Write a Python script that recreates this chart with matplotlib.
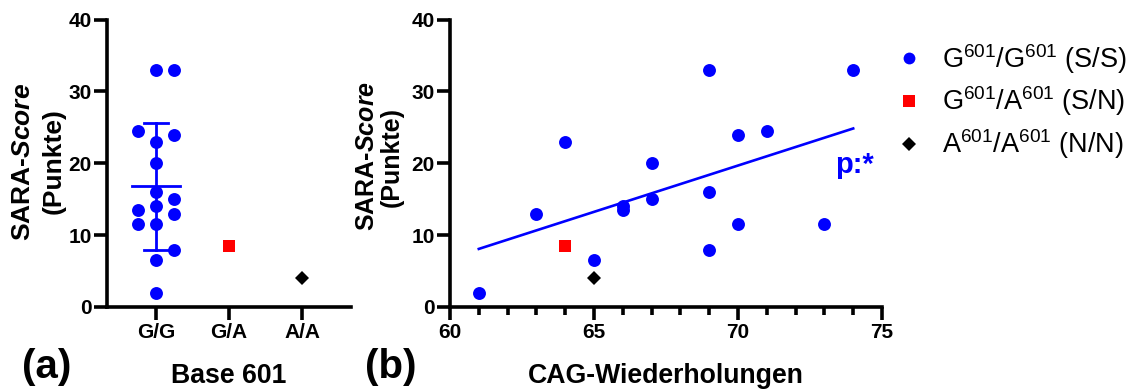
import numpy as np
import matplotlib
matplotlib.use("Agg")
import matplotlib.pyplot as plt
from matplotlib.lines import Line2D

plt.rcParams['font.family'] = ['Liberation Sans', 'DejaVu Sans']
plt.rcParams['mathtext.fontset'] = 'custom'
plt.rcParams['mathtext.rm'] = 'Liberation Sans'
plt.rcParams['mathtext.it'] = 'Liberation Sans:italic:bold'
plt.rcParams['mathtext.bf'] = 'Liberation Sans:bold'
plt.rcParams['mathtext.default'] = 'regular'

# ---- data ----
genotypes = ["G/G", "G/A", "A/A"]
cag_gg = [61, 63, 64, 65, 66, 66, 67, 67, 69, 69, 69, 70, 70, 71, 73, 74]
sara_gg = [2, 13, 23, 6.5, 14, 13.5, 20, 15, 33, 16, 8, 24, 11.5, 24.5, 11.5, 33]
gg_jitter = [0, 1, 0, 0, 0, -1, 0, 1, 0, 0, 1, 1, -1, -1, 0, 1]
cag_ga = [64]
sara_ga = [8.5]
cag_aa = [65]
sara_aa = [4]
legend_labels = ["G$^{601}$/G$^{601}$ (S/S)", "G$^{601}$/A$^{601}$ (S/N)", "A$^{601}$/A$^{601}$ (N/N)"]
p_label = "p:*"

BLUE = "#0000FF"
RED = "#FF0000"
BLACK = "#000000"
LW = 2.6
TICK_FS = 15

W, H = 1136, 392
fig = plt.figure(figsize=(W / 100, H / 100), dpi=100)

def px(x0, y0, x1, y1):
    return [x0 / W, 1 - y1 / H, (x1 - x0) / W, (y1 - y0) / H]

axa = fig.add_axes(px(107, 19.5, 351, 307))
axb = fig.add_axes(px(450, 19.5, 882, 307))

for ax in (axa, axb):
    for s in ("top", "right"):
        ax.spines[s].set_visible(False)
    for s in ("left", "bottom"):
        ax.spines[s].set_linewidth(LW)
        ax.spines[s].set_capstyle("projecting")
    ax.set_ylim(0, 40)
    ax.set_yticks([0, 10, 20, 30, 40])
    ax.tick_params(axis="both", which="major", length=9.4, width=LW, labelsize=TICK_FS, pad=1.5)
    ax.tick_params(axis="x", which="major", pad=2.0)
    for lab in ax.get_xticklabels() + ax.get_yticklabels():
        lab.set_fontweight("bold")
    ax.patch.set_visible(False)

# ---- panel a ----
gg_x = np.array(gg_jitter) * 0.25
axa.plot(gg_x, sara_gg, "o", color=BLUE, ms=9.3, mew=0, clip_on=False, zorder=3)
axa.plot([1] * len(sara_ga), sara_ga, "s", color=RED, ms=8.4, mew=0, clip_on=False, zorder=3)
axa.plot([2] * len(sara_aa), sara_aa, "D", color=BLACK, ms=7.4, mew=0, clip_on=False, zorder=3)
m = np.mean(sara_gg)
sd = np.std(sara_gg, ddof=1)
axa.plot([-0.33, 0.33], [m, m], color=BLUE, lw=2.0, zorder=4)
axa.plot([0, 0], [m - sd, m + sd], color=BLUE, lw=2.0, zorder=4)
axa.plot([-0.17, 0.17], [m + sd, m + sd], color=BLUE, lw=2.0, zorder=4)
axa.plot([-0.17, 0.17], [m - sd, m - sd], color=BLUE, lw=2.0, zorder=4)
axa.set_xlim(-0.671, 2.671)
axa.set_xticks([0, 1, 2])
axa.set_xticklabels(genotypes, fontweight="bold", fontsize=TICK_FS)

# ---- panel b ----
axb.plot(cag_gg, sara_gg, "o", color=BLUE, ms=9.3, mew=0, clip_on=False, zorder=3)
axb.plot(cag_ga, sara_ga, "s", color=RED, ms=8.4, mew=0, clip_on=False, zorder=3)
axb.plot(cag_aa, sara_aa, "D", color=BLACK, ms=7.4, mew=0, clip_on=False, zorder=3)
k, b = np.polyfit(cag_gg, sara_gg, 1)
xr = np.array([min(cag_gg), max(cag_gg)])
axb.plot(xr, k * xr + b, color=BLUE, lw=1.9, zorder=2)
axb.set_xlim(60, 75)
axb.set_xticks([60, 65, 70, 75])
axb.set_xticks(np.arange(60, 76, 1), minor=True)
axb.tick_params(axis="x", which="minor", length=6, width=LW)
for lab in axb.get_xticklabels():
    lab.set_fontweight("bold")
axb.text(73.37, 18.6, p_label, color=BLUE, fontsize=21, fontweight="bold",
         ha="left", va="baseline")

# ---- labels ----
def ftext(x, y, s, **kw):
    fig.text(x / W, 1 - y / H, s, **kw)

ylab_a = dict(fontsize=19.0, fontweight="bold", rotation=90, ha="center", va="center")
ylab_b = dict(fontsize=18.0, fontweight="bold", rotation=90, ha="center", va="center")
ftext(23.5, 161.5, "SARA-$\\mathit{Score}$", **ylab_a)
ftext(54, 161, "(Punkte)", **ylab_a)
ftext(367.5, 156, "SARA-$\\mathit{Score}$", **ylab_b)
ftext(391.5, 157, "(Punkte)", **ylab_b)

ftext(229, 383, "Base 601", fontsize=19.2, fontweight="bold", ha="center", va="baseline")
ftext(666, 383, "CAG-Wiederholungen", fontsize=19.2, fontweight="bold", ha="center", va="baseline")

ftext(47, 367, "(a)", fontsize=29, fontweight="bold", ha="center", va="center")
ftext(391, 367, "(b)", fontsize=29, fontweight="bold", ha="center", va="center")

# ---- legend ----
handles = [
    Line2D([], [], ls="none", marker="o", color=BLUE, ms=8.5, mew=0),
    Line2D([], [], ls="none", marker="s", color=RED, ms=8.2, mew=0),
    Line2D([], [], ls="none", marker="D", color=BLACK, ms=7.2, mew=0),
]
fig.legend(handles, legend_labels, loc="center left",
           bbox_to_anchor=(895.5 / W, 1 - 101.5 / H), frameon=False,
           fontsize=19.5, borderpad=0, borderaxespad=0, handlelength=1.0,
           handletextpad=0.72, labelspacing=0.33)

fig.savefig("out.png", dpi=100)
